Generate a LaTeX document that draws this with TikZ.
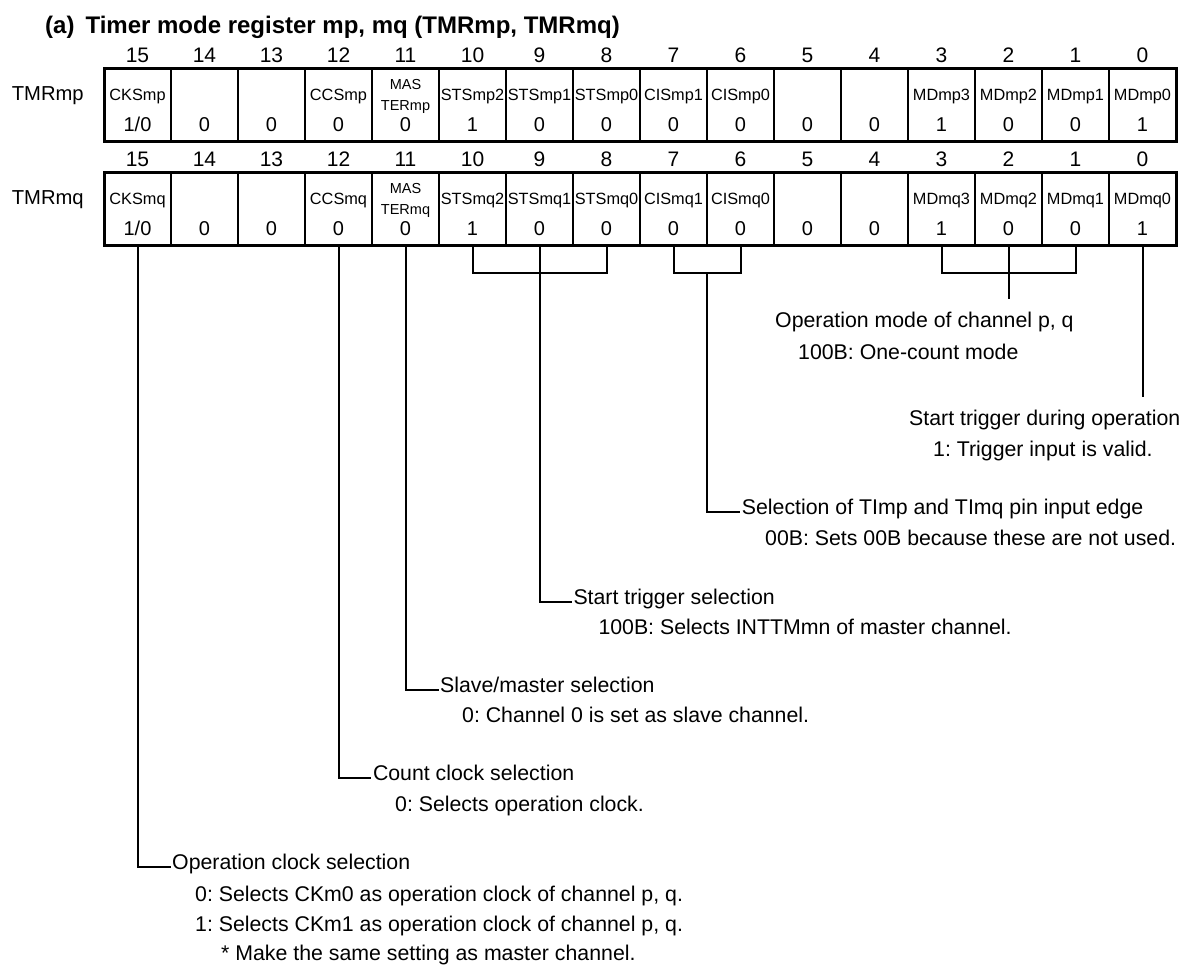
\documentclass[tikz,border=0pt]{standalone}
\usepackage{fontspec}
\setmainfont{Liberation Sans}
\frenchspacing
\begin{document}
\begin{tikzpicture}[x=1pt,y=-1pt,
  desc/.style={anchor=base west,inner xsep=1.5pt,inner ysep=0pt,font=\fontsize{21.3}{25}\selectfont},
  bitnum/.style={anchor=base,inner sep=0pt,font=\fontsize{21}{25}\selectfont},
  field/.style={anchor=base,inner sep=0pt,font=\fontsize{16.3}{19}\selectfont},
  smallfield/.style={anchor=base,inner sep=0pt,font=\fontsize{14.5}{17}\selectfont},
  val/.style={anchor=base,inner sep=0pt,font=\fontsize{20}{24}\selectfont},
  reglabel/.style={anchor=base west,inner sep=0pt,font=\fontsize{20.2}{24}\selectfont},
  conn/.style={line width=2pt},
  cellsep/.style={line width=1.2pt},
  regborder/.style={line width=3pt},
]
\useasboundingbox (0,0) rectangle (1184,967);

% title
\node[anchor=base west,inner sep=0pt,font=\bfseries\fontsize{24}{28}\selectfont] (title) at (45,33)
  {(a)\hspace{11pt}Timer mode register mp, mq (TMRmp, TMRmq)};

% registers
\foreach \top/\sfx in {68.5/p,172.5/q}{
  \pgfmathsetmacro\bot{\top+73}
  \node[reglabel] (lab\sfx) at (11.7,\top+31.5) {TMRm\sfx};
  \foreach \k in {1,...,15}{
    \draw[cellsep] (104+67*\k,\top) -- (104+67*\k,\bot);
  }
  \draw[regborder] (104,\top) rectangle (1176,\bot);
  \foreach \b/\v in {15/{1/0},14/0,13/0,12/0,11/0,10/1,9/0,8/0,7/0,6/0,5/0,4/0,3/1,2/0,1/0,0/1}{
    \pgfmathsetmacro\cx{104+67*(15-\b)+33.5}
    \node[bitnum] (n\sfx\b) at (\cx,\top-6.5) {\b};
    \node[val] (v\sfx\b) at (\cx,\top+63.4) {\v};
  }
  \foreach \b/\f in {15/CKSm\sfx,12/CCSm\sfx,10/STSm\sfx2,9/STSm\sfx1,8/STSm\sfx0,7/CISm\sfx1,6/CISm\sfx0,3/MDm\sfx3,2/MDm\sfx2,1/MDm\sfx1,0/MDm\sfx0}{
    \pgfmathsetmacro\cx{104+67*(15-\b)+33.5}
    \node[field] (f\sfx\b) at (\cx,\top+32.3) {\f};
  }
  \node[smallfield] (mas\sfx) at (405.5,\top+21) {MAS};
  \node[smallfield] (ter\sfx) at (405.5,\top+41.5) {TERm\sfx};
}

% connector anchors at bottom of TMRmq
\foreach \b in {0,...,15}{
  \pgfmathsetmacro\cx{104+67*(15-\b)+33.5}
  \coordinate (c\b) at (\cx,245.5);
}
\coordinate (brk) at (0,273);
\coordinate (cism) at (707,273);
\coordinate (mdend) at (1008.5,299);
\coordinate (b0end) at (1142.5,397);

% descriptions
\node[desc] (md)   at (773.5,327)   {Operation mode of channel p, q};
\node[desc] (md2)  at (796.5,359)   {100B: One-count mode};
\node[desc] (st0)  at (907.5,425)   {Start trigger during operation};
\node[desc] (st02) at (931.5,456.7) {1: Trigger input is valid.};
\node[desc] (cis)  at (740.2,514.2) {Selection of TImp and TImq pin input edge};
\node[desc] (cis2) at (763.5,545)   {00B: Sets 00B because these are not used.};
\node[desc] (sts)  at (571.8,604.2) {Start trigger selection};
\node[desc] (sts2) at (596.8,634.3) {100B: Selects INTTMmn of master channel.};
\node[desc] (msl)  at (438.5,692.5) {Slave/master selection};
\node[desc] (msl2) at (460.5,722)   {0: Channel 0 is set as slave channel.};
\node[desc] (cc)   at (371.3,780.5) {Count clock selection};
\node[desc] (cc2)  at (393.5,811.7) {0: Selects operation clock.};
\node[desc] (oc)   at (170.5,869.2) {Operation clock selection};
\node[desc] (oc0)  at (193.5,901.7) {0: Selects CKm0 as operation clock of channel p, q.};
\node[desc] (oc1)  at (193.5,931.5) {1: Selects CKm1 as operation clock of channel p, q.};
\node[desc] (ocn)  at (219.5,960)   {* Make the same setting as master channel.};

% connectors
\draw[conn] (c3) -- (c3 |- brk) -- (c1 |- brk) -- (c1);
\draw[conn] (c2) -- (mdend);
\draw[conn] (c0) -- (b0end);
\draw[conn] (c7) -- (c7 |- brk) -- (c6 |- brk) -- (c6);
\draw[conn] (cism) |- ([yshift=2.5pt]cis.base west);
\draw[conn] (c10) -- (c10 |- brk) -- (c8 |- brk) -- (c8);
\draw[conn] (c9) |- ([yshift=2.5pt]sts.base west);
\draw[conn] (c11) |- ([yshift=2.5pt]msl.base west);
\draw[conn] (c12) |- ([yshift=2.5pt]cc.base west);
\draw[conn] (c15) |- ([yshift=2.5pt]oc.base west);
\end{tikzpicture}
\end{document}
